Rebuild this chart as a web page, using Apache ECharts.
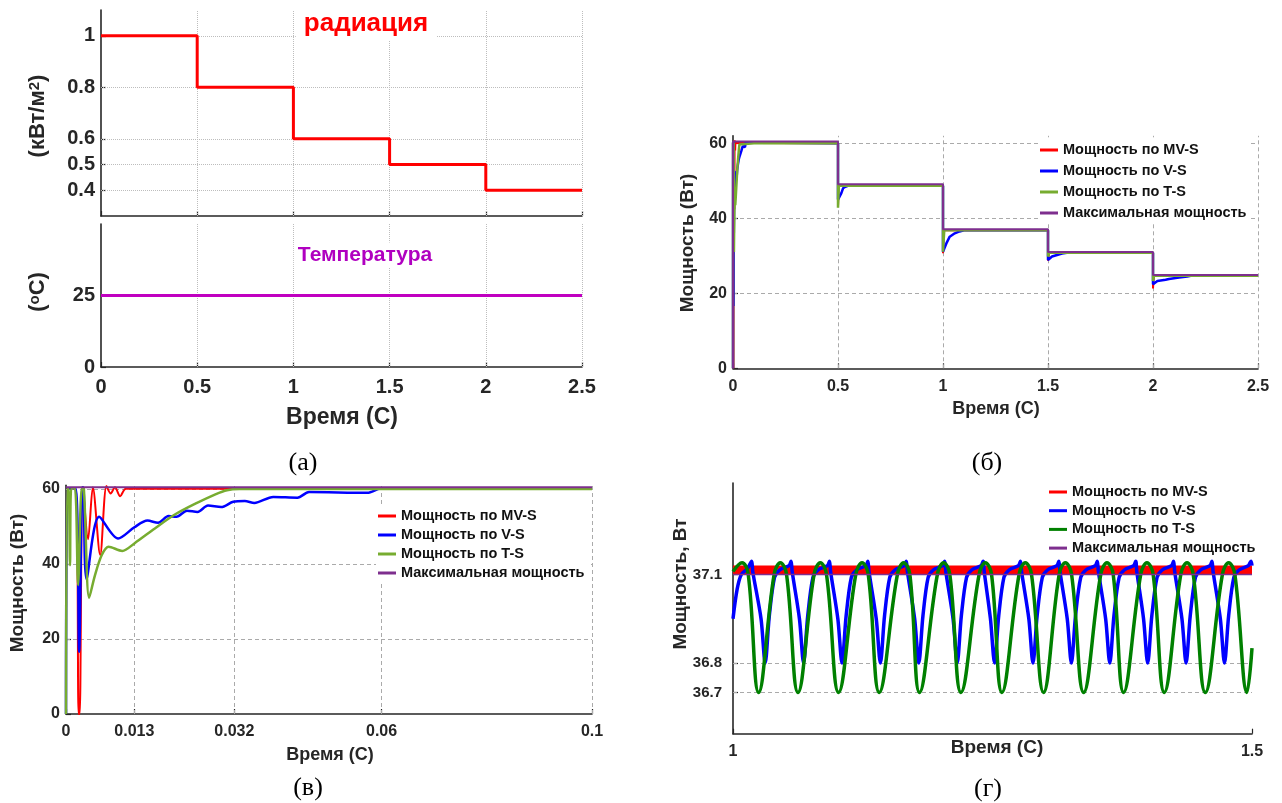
<!DOCTYPE html>
<html>
<head>
<meta charset="utf-8">
<script src="https://cdn.jsdelivr.net/npm/echarts@6/dist/echarts.min.js"></script>
<style>
  html, body { margin: 0; padding: 0; background: #ffffff; }
  #chart { width: 1282px; height: 803px; }
</style>
</head>
<body>
<div id="chart"></div>
<script>
// ---------- (а) irradiance and temperature profiles ----------
const stepTimes   = [0, 0.5, 1, 1.5, 2, 2.5];
const irradiance  = [1, 0.8, 0.6, 0.5, 0.4, 0.4];          // кВт/м²
const tempTimes   = [0, 2.5];
const temperature = [25, 25];                              // °C

// ---------- power start-up, first 0.1 s (used in (б) and (в)) ----------
const startRed = [[0,0],[0.0003,60.2],[0.0018,60.2],[0.0024,0],[0.0026,0],[0.0032,60.5],[0.0042,46.6],
  [0.0051,60.5],[0.0065,42.4],[0.0077,60.8],[0.0085,58.8],[0.0093,60.5],[0.0103,58.1],[0.0114,60.1],[0.1,60.1]];
const startBlue = [[0,0],[0.0003,60.2],[0.0018,60.2],[0.0025,16.6],[0.0031,60.5],[0.0033,60.5],[0.0039,36],
  [0.0063,52.6],[0.0099,46.8],[0.013,49.8],[0.0155,51.6],[0.0175,51.0],[0.0195,52.8],[0.021,52.6],[0.023,54.2],
  [0.025,53.9],[0.027,55.6],[0.0295,55.2],[0.0318,56.6],[0.034,56.8],[0.0358,56.3],[0.0394,57.9],[0.044,57.7],
  [0.0462,59.2],[0.0573,59.0],[0.06,60.2],[0.1,60.2]];
const startGreen = [[0,0],[0.0002,60.2],[0.0005,60.2],[0.00076,39.7],[0.001,60.2],[0.0017,60.2],[0.0023,34.4],
  [0.003,60.2],[0.0034,60.0],[0.0044,31],[0.0055,37],[0.0068,42.4],[0.0081,44.6],[0.0107,43.5],[0.013,45.5],
  [0.0169,49.5],[0.0207,53.2],[0.0246,56.1],[0.0284,58.6],[0.0306,59.7],[0.033,60.0],[0.1,60.0]];
const startMax = [[0,60.5],[0.1,60.5]];

// ---------- power after each irradiance step (б) ----------
const stepRed = [[0.5,60.0],[0.5,43.0],[0.503,48.7],[1.0,48.7],[1.0,30.7],[1.004,36.8],[1.5,36.8],[1.5,28.7],
  [1.505,30.8],[2.0,30.8],[2.0,21.3],[2.004,24.7],[2.5,24.7]];
const stepGreen = [[0.5,60.0],[0.5,42.8],[0.504,48.7],[1.0,48.7],[1.0,31.1],[1.006,36.8],[1.5,36.8],[1.5,29.8],
  [1.505,30.8],[2.0,30.8],[2.0,23.3],[2.005,24.7],[2.5,24.7]];
const stepBlue = [[0.5,60.0],[0.5,45.0],[0.508,45.3],[0.516,46.7],[0.524,48.0],[0.535,48.4],[0.55,48.7],
  [1.0,48.7],[1.0,31.1],[1.008,31.5],[1.016,33.3],[1.032,35.1],[1.056,36.0],[1.079,36.5],[1.1,36.8],
  [1.5,36.8],[1.5,28.9],[1.506,28.9],[1.519,29.8],[1.543,30.2],[1.567,30.6],[1.59,30.8],
  [2.0,30.8],[2.0,22.4],[2.005,22.4],[2.021,23.3],[2.06,23.6],[2.076,23.8],[2.1,24.0],[2.124,24.2],
  [2.163,24.5],[2.18,24.7],[2.5,24.7]];
const maxPower = [[0,0],[0.0002,60.5],[0.5,60.5],[0.5,49.1],[1.0,49.1],[1.0,37.1],[1.5,37.1],[1.5,31.0],
  [2.0,31.0],[2.0,24.9],[2.5,24.9]];

// ---------- steady state at 0.6 кВт/м², 1 … 1.5 s (г) ----------
const zoomRed = [[1.0,37.115],[1.5,37.115]];
const zoomMax = [[1.0,37.1],[1.5,37.1]];
const zoomBlue = [[1.0,36.95],[1.004,37.05],[1.008,37.1],[1.014,37.12],[1.018,37.145],[1.019,37.11],[1.027,36.95],[1.031,36.8],
  [1.035,36.96],[1.040,37.09],[1.045,37.115],[1.054,37.13],[1.056,37.145],[1.057,37.11],[1.064,36.95],[1.068,36.8],
  [1.072,36.96],[1.077,37.09],[1.082,37.115],[1.091,37.13],[1.093,37.145],[1.094,37.11],[1.101,36.95],[1.105,36.8],
  [1.109,36.96],[1.114,37.09],[1.119,37.115],[1.128,37.13],[1.130,37.145],[1.131,37.11],[1.138,36.95],[1.142,36.8],
  [1.146,36.96],[1.151,37.09],[1.156,37.115],[1.165,37.13],[1.167,37.145],[1.168,37.11],[1.175,36.95],[1.179,36.8],
  [1.183,36.96],[1.188,37.09],[1.193,37.115],[1.202,37.13],[1.204,37.145],[1.205,37.11],[1.212,36.95],[1.216,36.8],
  [1.220,36.96],[1.225,37.09],[1.230,37.115],[1.239,37.13],[1.241,37.145],[1.242,37.11],[1.248,36.95],[1.252,36.8],
  [1.256,36.96],[1.261,37.09],[1.266,37.115],[1.275,37.13],[1.277,37.145],[1.278,37.11],[1.285,36.95],[1.289,36.8],
  [1.293,36.96],[1.298,37.09],[1.303,37.115],[1.312,37.13],[1.314,37.145],[1.315,37.11],[1.322,36.95],[1.326,36.8],
  [1.330,36.96],[1.335,37.09],[1.340,37.115],[1.349,37.13],[1.351,37.145],[1.352,37.11],[1.359,36.95],[1.363,36.8],
  [1.367,36.96],[1.372,37.09],[1.377,37.115],[1.386,37.13],[1.388,37.145],[1.389,37.11],[1.3955,36.95],[1.3995,36.8],
  [1.4035,36.96],[1.4085,37.09],[1.4135,37.115],[1.4225,37.13],[1.4245,37.145],[1.4255,37.11],[1.4325,36.95],[1.4365,36.8],
  [1.4405,36.96],[1.4455,37.09],[1.4505,37.115],[1.4595,37.13],[1.4615,37.145],[1.4625,37.11],[1.4695,36.95],[1.4735,36.8],
  [1.4775,36.96],[1.4825,37.09],[1.4875,37.115],[1.4965,37.13],[1.499,37.145],[1.5,37.13]];
const zoomGreen = [[1.0,37.11],[1.0087,37.14],[1.0147,37.1],[1.0247,36.7],
  [1.0396,37.1],[1.0456,37.14],[1.0516,37.1],[1.0626,36.7],
  [1.0781,37.1],[1.0841,37.14],[1.0901,37.1],[1.1017,36.7],
  [1.1183,37.1],[1.1243,37.14],[1.1303,37.1],[1.1409,36.7],
  [1.1584,37.1],[1.1644,37.14],[1.1704,37.1],[1.1797,36.7],
  [1.1969,37.1],[1.2029,37.14],[1.2089,37.1],[1.2196,36.7],
  [1.2371,37.1],[1.2431,37.14],[1.2491,37.1],[1.2591,36.7],
  [1.2756,37.1],[1.2816,37.14],[1.2876,37.1],[1.2992,36.7],
  [1.3142,37.1],[1.3202,37.14],[1.3262,37.1],[1.3378,36.7],
  [1.3543,37.1],[1.3603,37.14],[1.3663,37.1],[1.3763,36.7],
  [1.3928,37.1],[1.3988,37.14],[1.4048,37.1],[1.4155,36.7],
  [1.4314,37.1],[1.4374,37.14],[1.4434,37.1],[1.455,36.7],
  [1.4715,37.1],[1.4775,37.14],[1.4835,37.1],[1.4952,36.7],[1.5,36.85]];

// ---------- tick values ----------
const tickTime       = [0, 0.5, 1, 1.5, 2, 2.5];
const tickIrr        = [0.4, 0.5, 0.6, 0.8, 1];
const tickTemp       = [0, 25];
const tickPower      = [0, 20, 40, 60];
const tickStartTime  = [0, 0.013, 0.032, 0.06, 0.1];
const tickZoomTime   = [1, 1.5];
const tickZoomPower  = [36.7, 36.8, 37.1];

const legendNames  = ['Мощность по MV-S', 'Мощность по V-S', 'Мощность по T-S', 'Максимальная мощность'];
const C_RED = '#ff0000', C_BLUE = '#0000ff', C_GREEN = '#77ac30', C_DKGREEN = '#008000', C_PURPLE = '#7e2f8e';

const FONT = '"Liberation Sans", Arial, sans-serif';
const AX = '#262626';

function valueAxis(gridIndex, min, max, ticks, labelSize, margin, showLabel) {
  return {
    type: 'value', gridIndex, min, max,
    axisLine: { show: true, onZero: false, lineStyle: { color: AX, width: 1.6 } },
    axisTick: { show: true, inside: true, length: 5, customValues: ticks, lineStyle: { color: AX, width: 1.2 } },
    axisLabel: {
      show: showLabel !== false, customValues: ticks, margin,
      formatter: v => String(v),
      color: AX, fontFamily: FONT, fontWeight: 'bold', fontSize: labelSize
    },
    splitLine: { show: false }
  };
}

// grid lines drawn as mark lines so they can sit at irregular tick values
function gridLines(axisIndex, xs, ys, dash, color) {
  return {
    type: 'line', xAxisIndex: axisIndex, yAxisIndex: axisIndex, data: [], z: 1, silent: true,
    markLine: {
      silent: true, z: 1, precision: 6, symbol: ['none', 'none'], label: { show: false }, animation: false,
      emphasis: { disabled: true },
      lineStyle: { type: dash, color, width: 1 },
      data: xs.map(v => ({ xAxis: v })).concat(ys.map(v => ({ yAxis: v })))
    }
  };
}

function curve(axisIndex, name, data, color, width, smooth, z) {
  return {
    type: 'line', name, xAxisIndex: axisIndex, yAxisIndex: axisIndex, data,
    showSymbol: false, symbol: 'none', smooth: smooth || false, z: z || 10,
    lineStyle: { color, width }, itemStyle: { color }, silent: true
  };
}

function legendAt(left, top, gap, greenColor) {
  const cols = [C_RED, C_BLUE, greenColor, C_PURPLE];
  return {
    left, top, orient: 'vertical', icon: 'rect', itemWidth: 18, itemHeight: 3, itemGap: gap,
    selectedMode: false, backgroundColor: '#ffffff', padding: [2, 4, 2, 2],
    textStyle: { fontFamily: FONT, fontWeight: 'bold', fontSize: 14.5, color: '#111', lineHeight: 16 },
    data: legendNames.map((n, i) => ({ name: n, itemStyle: { color: cols[i] } }))
  };
}

function label(text, x, y, size, opts) {
  const o = opts || {};
  return {
    type: 'text', x, y, rotation: o.rotate ? Math.PI / 2 : 0, z: 100,
    style: Object.assign({
      text, font: (o.weight || 'bold') + ' ' + size + 'px ' + (o.family || FONT),
      fill: o.color || AX, align: 'center', verticalAlign: 'middle',
      textAlign: 'center', textVerticalAlign: 'middle'
    }, o.extra || {})
  };
}

const chart = echarts.init(document.getElementById('chart'), null, { renderer: 'canvas' });

const option = {
  animation: false,
  backgroundColor: '#ffffff',
  grid: [
    { left: 101, top: 10,    width: 481, height: 206 },   // (а) radiation
    { left: 101, top: 224,   width: 481, height: 143 },   // (а) temperature
    { left: 733, top: 135.8, width: 525, height: 232.5 }, // (б)
    { left: 66,  top: 485.3, width: 526, height: 228.7 }, // (в)
    { left: 733, top: 483,   width: 519, height: 250.7 }  // (г)
  ],
  xAxis: [
    valueAxis(0, 0, 2.5, tickTime, 20, 10, false),
    valueAxis(1, 0, 2.5, tickTime, 20, 10),
    valueAxis(2, 0, 2.5, tickTime, 16, 10),
    valueAxis(3, 0, 0.1, tickStartTime, 16, 10),
    valueAxis(4, 1, 1.5, tickZoomTime, 16, 10)
  ],
  yAxis: [
    valueAxis(0, 0.3, 1.1, tickIrr, 20, 6),
    valueAxis(1, 0, 50, tickTemp, 20, 6),
    valueAxis(2, 0, 62, tickPower, 16, 6),
    valueAxis(3, 0, 61, tickPower, 16, 6),
    valueAxis(4, 36.56, 37.41, tickZoomPower, 15, 11)
  ],
  legend: [
    legendAt(1038, 140, 5, C_GREEN),
    legendAt(376, 506, 3, C_GREEN),
    legendAt(1047, 482, 2.7, C_DKGREEN)
  ],
  series: [
    // (а)
    gridLines(0, tickTime.slice(1), tickIrr, 'dotted', '#bdbdbd'),
    Object.assign(curve(0, 'радиация', stepTimes.map((t, i) => [t, irradiance[i]]), C_RED, 3), { step: 'end' }),
    gridLines(1, tickTime.slice(1), [], 'dotted', '#bdbdbd'),
    curve(1, 'Температура', tempTimes.map((t, i) => [t, temperature[i]]), '#c000c0', 3),
    // (б)
    gridLines(2, tickTime.slice(1), tickPower.slice(1), [4, 3], '#aaaaaa'),
    curve(2, legendNames[0], startRed.concat(stepRed), C_RED, 2),
    curve(2, legendNames[1], startBlue.concat(stepBlue), C_BLUE, 2.5),
    curve(2, legendNames[2], startGreen.concat(stepGreen), C_GREEN, 2.5),
    curve(2, legendNames[3], maxPower, C_PURPLE, 2, false, 12),
    // (в)
    gridLines(3, tickStartTime.slice(1), tickPower.slice(1), [4, 3], '#aaaaaa'),
    curve(3, legendNames[0], startRed, C_RED, 2, 0.3),
    curve(3, legendNames[1], startBlue, C_BLUE, 2.5, 0.3),
    curve(3, legendNames[2], startGreen, C_GREEN, 2.5, 0.3),
    curve(3, legendNames[3], startMax, C_PURPLE, 2, false, 12),
    // (г)
    gridLines(4, [], [36.7, 36.8], [4, 3], '#aaaaaa'),
    curve(4, legendNames[0], zoomRed, C_RED, 9),
    curve(4, legendNames[1], zoomBlue, C_BLUE, 3.5, 0.3),
    curve(4, legendNames[2], zoomGreen, C_DKGREEN, 3.5, 0.4),
    curve(4, legendNames[3], zoomMax, C_PURPLE, 1.5, false, 12)
  ],
  graphic: [
    // (а) annotations and axis titles
    label('радиация', 366, 24, 26, { color: C_RED, extra: { backgroundColor: '#ffffff', padding: [2, 8, 4, 8] } }),
    label('Температура', 365, 255, 21, { color: '#b000c0', extra: { backgroundColor: '#ffffff', padding: [2, 4] } }),
    label('(кВт/м{s|2})', 38, 116, 22, { rotate: true, extra: { rich: { s: { fontFamily: FONT, fontWeight: 'bold', fontSize: 15, verticalAlign: 'top', fill: AX } } } }),
    label('({s|o}C)', 38, 292, 22, { rotate: true, extra: { rich: { s: { fontFamily: FONT, fontWeight: 'bold', fontSize: 15, verticalAlign: 'top', fill: AX } } } }),
    label('Время (С)', 342, 418, 23),
    // (б)
    label('Мощность (Вт)', 688, 243, 19, { rotate: true }),
    label('Время (С)', 996, 409, 18),
    // (в)
    label('Мощность (Вт)', 18, 583, 19, { rotate: true }),
    label('Время (С)', 330, 755, 18),
    // (г)
    label('Мощность, Вт', 681, 584, 19, { rotate: true }),
    label('Время (С)', 997, 748, 19),
    // panel captions
    label('(а)', 303, 463, 26, { weight: 'normal', family: '"Liberation Serif", serif', color: '#000' }),
    label('(б)', 987, 463, 26, { weight: 'normal', family: '"Liberation Serif", serif', color: '#000' }),
    label('(в)', 308, 788, 26, { weight: 'normal', family: '"Liberation Serif", serif', color: '#000' }),
    label('(г)', 988, 789, 26, { weight: 'normal', family: '"Liberation Serif", serif', color: '#000' })
  ]
};

chart.setOption(option);
</script>
</body>
</html>
